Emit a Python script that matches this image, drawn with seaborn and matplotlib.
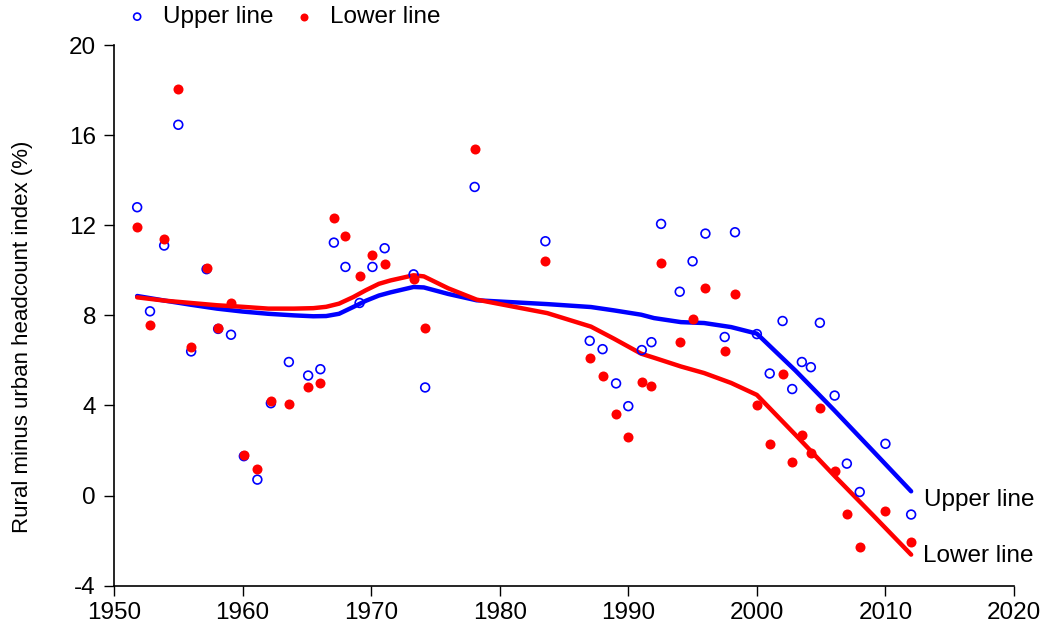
import numpy as np
import pandas as pd
import matplotlib
matplotlib.use("Agg")
import matplotlib.pyplot as plt
import seaborn as sns

# ------------------------------------------
# DATA
# ------------------------------------------

years = [1951.8, 1952.8, 1953.9, 1955.0, 1956.0, 1957.2, 1958.1, 1959.1, 1960.1, 1961.15,
         1962.2, 1963.6, 1965.1, 1966.05, 1967.1, 1968.0, 1969.1, 1970.1, 1971.05, 1973.3,
         1974.2, 1978.05, 1983.55, 1987.0, 1988.0, 1989.05, 1990.0, 1991.05, 1991.8, 1992.55,
         1994.0, 1995.0, 1996.0, 1997.5, 1998.3, 2000.0, 2001.0, 2002.0, 2002.75, 2003.5,
         2004.2, 2004.9, 2006.05, 2007.0, 2008.0, 2010.0, 2012.0]

upper_pts = [12.8, 8.18, 11.1, 16.46, 6.4, 10.05, 7.4, 7.14, 1.75, 0.71,
             4.1, 5.93, 5.33, 5.61, 11.23, 10.15, 8.55, 10.15, 10.98, 9.82,
             4.8, 13.7, 11.29, 6.87, 6.5, 4.98, 3.97, 6.46, 6.81, 12.06,
             9.05, 10.4, 11.63, 7.04, 11.69, 7.17, 5.42, 7.75, 4.73, 5.93,
             5.7, 7.67, 4.44, 1.42, 0.16, 2.3, -0.84]

lower_pts = [11.92, 7.57, 11.39, 18.06, 6.58, 10.12, 7.45, 8.55, 1.79, 1.16,
             4.22, 4.07, 4.83, 5.02, 12.34, 11.54, 9.76, 10.7, 10.3, 9.63,
             7.45, 15.38, 10.4, 6.1, 5.29, 3.63, 2.62, 5.05, 4.86, 10.33,
             6.81, 7.82, 9.23, 6.43, 8.95, 4.0, 2.3, 5.39, 1.47, 2.67,
             1.88, 3.87, 1.08, -0.8, -2.27, -0.67, -2.07]

line_years = [1951.8, 1954, 1956, 1958, 1960, 1962, 1964, 1965.5, 1966.5, 1967.5,
              1968.6, 1969.6, 1970.6, 1971.5, 1973.3, 1974.1, 1976, 1978.2, 1983.7, 1987.1,
              1988.9, 1991, 1992, 1994.1, 1995.9, 1998, 2000, 2003, 2006, 2009, 2012]

upper_line = [8.86, 8.65, 8.47, 8.3, 8.17, 8.07, 8.0, 7.96, 7.97, 8.07,
              8.37, 8.65, 8.88, 9.02, 9.26, 9.24, 8.95, 8.67, 8.5, 8.37,
              8.22, 8.03, 7.88, 7.7, 7.66, 7.48, 7.19, 5.55, 3.8, 2.0, 0.19]

lower_line = [8.8, 8.65, 8.55, 8.45, 8.38, 8.3, 8.3, 8.32, 8.38, 8.52,
              8.81, 9.12, 9.4, 9.55, 9.78, 9.73, 9.2, 8.7, 8.1, 7.5,
              6.96, 6.3, 6.12, 5.73, 5.44, 5.0, 4.47, 2.7, 0.9, -0.85, -2.62]

y_ticks = [-4, 0, 4, 8, 12, 16, 20]
x_ticks = [1950, 1960, 1970, 1980, 1990, 2000, 2010, 2020]

pts = pd.DataFrame({"Year": years, "Upper": upper_pts, "Lower": lower_pts})
lines = pd.DataFrame({"Year": line_years, "Upper": upper_line, "Lower": lower_line})

# ------------------------------------------
# PLOT
# ------------------------------------------

sns.set_style("ticks")
plt.rcParams["font.family"] = ["Liberation Sans", "DejaVu Sans"]
plt.rcParams["axes.unicode_minus"] = False
for key in ["text.color", "axes.labelcolor", "xtick.color", "ytick.color"]:
    plt.rcParams[key] = "black"

fig = plt.figure(figsize=(10.46, 6.35), dpi=100)
ax = fig.add_axes([0.109, 0.0776, 0.8604, 0.8515])

blue = "#0000FF"
red = "#FF0000"

sns.lineplot(x="Year", y="Upper", data=lines, color=blue, linewidth=3.2, ax=ax,
             sort=False, legend=False)
sns.lineplot(x="Year", y="Lower", data=lines, color=red, linewidth=3.2, ax=ax,
             sort=False, legend=False)

sns.scatterplot(x="Year", y="Upper", data=pts, marker="o", facecolor="none",
                edgecolor=blue, linewidth=1.2, s=40, ax=ax, label="Upper line", zorder=3)
sns.scatterplot(x="Year", y="Lower", data=pts, marker="o", color=red,
                edgecolor=red, linewidth=0, s=52, ax=ax, label="Lower line", zorder=3)

ax.set_xlim(1950, 2020)
ax.set_ylim(-4, 20)
ax.set_xticks(x_ticks)
ax.set_yticks(y_ticks)
ax.tick_params(axis="both", labelsize=17.5, length=7, width=1, direction="out", pad=5)
ax.tick_params(axis="y", pad=6)
ax.set_xlabel("")
ax.set_ylabel("Rural minus urban headcount index (%)", fontsize=16)
ax.yaxis.set_label_coords(-0.09, 0.46)

sns.despine(ax=ax)
for side in ["left", "bottom"]:
    ax.spines[side].set_color("black")
    ax.spines[side].set_linewidth(1.2)

# line end labels
ax.text(2013.0, -0.44, "Upper line", fontsize=17.5, va="baseline", ha="left")
ax.text(2012.9, -2.96, "Lower line", fontsize=17.5, va="baseline", ha="left")

leg = ax.legend(loc="center left", bbox_to_anchor=(125 / 1046, 1 - 17 / 635),
                bbox_transform=fig.transFigure, ncol=2, frameon=False, fontsize=17.5,
                handlelength=1.0, handletextpad=0.58, columnspacing=0.74,
                markerscale=0.8, borderaxespad=0, borderpad=0)

fig.savefig("out.png", dpi=100)
